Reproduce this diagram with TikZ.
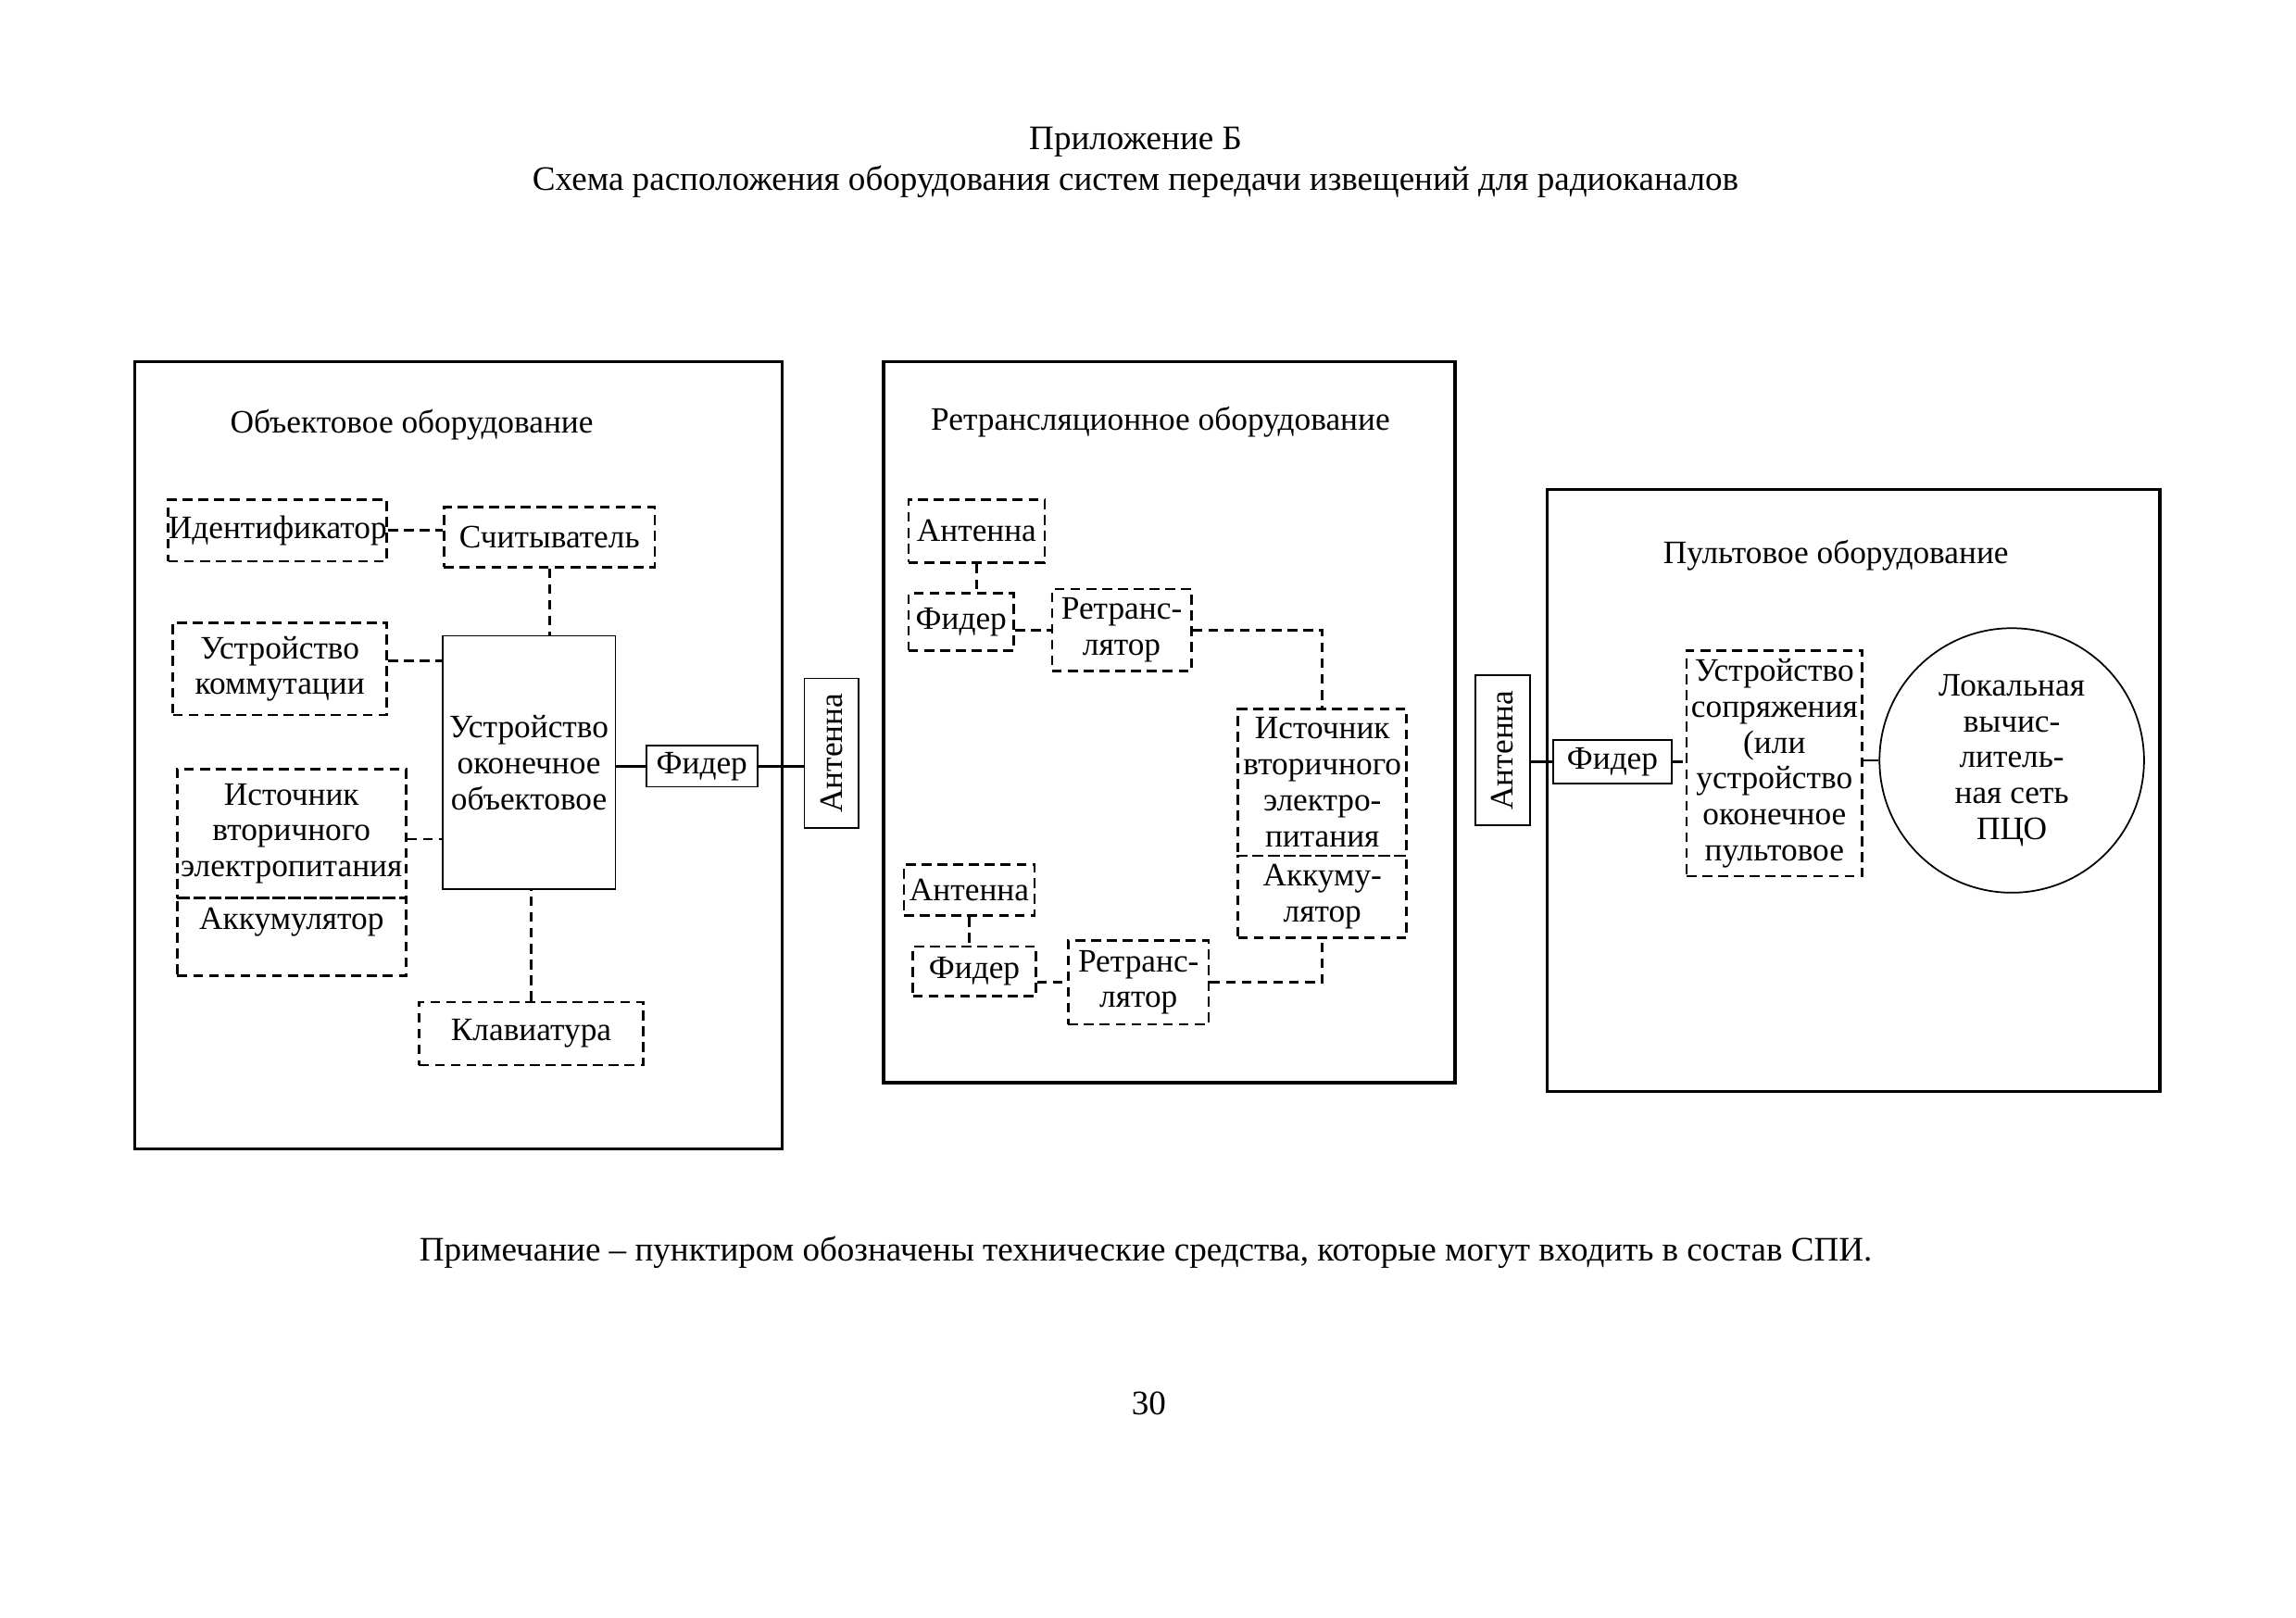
\documentclass[tikz,border=0pt]{standalone}
\usepackage{fontspec}
\setmainfont{Liberation Serif}

\tikzset{every picture/.style={line width=0.75pt}}
\tikzset{
  frame/.style={line width=1.1pt},
  sz/.style 2 args={minimum width=#1*0.5373pt, minimum height=#2*0.5373pt},
  sbox/.style={draw, line width=0.6pt, inner sep=0pt, align=center},
  dbox/.style={draw, line width=0.9pt, dash pattern=on 3.6pt off 2.2pt, inner sep=0pt, align=center},
  dline/.style={line width=0.9pt, dash pattern=on 3.6pt off 2.2pt},
  sline/.style={line width=0.8pt},
  head/.style={font=\fontsize{12.6}{15}\selectfont}
}

\begin{document}
\begin{tikzpicture}[x=0.5373pt,y=0.5373pt,yscale=-1,xscale=1,
  every node/.style={font=\fontsize{12}{13.2}\selectfont}]
\useasboundingbox (0,0) rectangle (1567,1103.7);

% Text Node
\node[head] (app) at (775,97) {Приложение Б};
% Text Node
\node[head] (ttl) at (775,124) {Схема расположения оборудования систем передачи извещений для радиоканалов};

%Shape: Rectangle [objektovoe]
\draw[frame] (92,247) rectangle (534,784);
%Shape: Rectangle [retranslyacionnoe]
\draw[frame] (603,247) rectangle (993,739);
%Shape: Rectangle [pultovoe]
\draw[frame] (1056,334) rectangle (1474,745);

% Text Node
\node (objlbl) at (281,290) {Объектовое оборудование};
% Text Node
\node (retlbl) at (792,288) {Ретрансляционное оборудование};
% Text Node
\node (pultlbl) at (1253,379) {Пультовое оборудование};

%Object equipment
\node[dbox, sz={145}{42}] (ident) at (189.5,362) {Идентификатор};
\node[dbox, sz={144}{41}] (reader) at (375,366.5) {Считыватель};
\node[dbox, sz={146}{63}] (komm) at (191,456.5) {Устройство\\коммутации};
\node[sbox, sz={118}{173}] (uoo) at (361,520.5) {Устройство\\оконечное\\объектовое};
\node[dbox, sz={156}{88}] (src1) at (199,569) {Источник\\вторичного\\электропитания};
\node[dbox, sz={156}{53}] (akk1) at (199,639.5) {Аккумулятор\\\mbox{}};
\node[dbox, sz={153}{43}] (kbd) at (362.5,705.5) {Клавиатура};
\node[sbox, sz={76}{28}] (fid1) at (479,523) {Фидер};
\node[sbox, rotate=90, sz={102}{37}] (ant1) at (567.5,514) {Антенна};

\draw[dline] (ident.east) -- (ident.east -| reader.west);
\draw[dline] (reader.south) -- (reader.south |- uoo.north);
\draw[dline] ([yshift=-3pt]komm.east) -- ([yshift=-3pt]komm.east -| uoo.west);
\draw[dline] ([yshift=2pt]src1.east) -- ([yshift=2pt]src1.east -| uoo.west);
\draw[dline] (kbd.north) -- (kbd.north |- uoo.south);
\draw[sline] (fid1.west -| uoo.east) -- (fid1.west);
\draw[sline] (fid1.east) -- (fid1.east -| ant1.north);

%Relay equipment
\node[dbox, sz={93}{43}] (ant2) at (666.5,362.5) {Антенна};
\node[dbox, sz={72}{39}] (fid2) at (656,424.5) {Фидер};
\node[dbox, sz={95}{56}] (ret2) at (765.5,430) {Ретранс-\\лятор};
\node[dbox, sz={115}{100}] (src2) at (902.5,534) {Источник\\вторичного\\электро-\\питания};
\node[dbox, sz={115}{56}] (akk2) at (902.5,612) {Аккуму-\\лятор};
\node[dbox, sz={89}{35}] (ant3) at (661.5,607.5) {Антенна};
\node[dbox, sz={84}{34}] (fid3) at (665,663) {Фидер};
\node[dbox, sz={96}{57}] (ret3) at (777,670.5) {Ретранс-\\лятор};

\draw[dline] (ant2.south) -- (ant2.south |- fid2.north);
\draw[dline] (ret2.west -| fid2.east) -- (ret2.west);
\draw[dline] (ret2.east) -| (src2.north);
\draw[dline] (ant3.south) -- (ant3.south |- fid3.north);
\draw[dline] (ret3.west -| fid3.east) -- (ret3.west);
\draw[dline] (ret3.east) -| (akk2.south);

%Console equipment
\node[sbox, rotate=90, sz={102}{37}] (ant4) at (1025.5,512) {Антенна};
\node[sbox, sz={81}{30}] (fid4) at (1100.5,520) {Фидер};
\node[dbox, sz={120}{154}] (pult) at (1211,521) {Устройство\\сопряжения\\(или\\устройство\\оконечное\\пультовое};
\node[draw, circle, line width=0.6pt, minimum size=97pt, inner sep=0pt, align=center] (lvs) at (1373,519) {Локальная\\вычис-\\литель-\\ная сеть\\ПЦО};

\draw[sline] (fid4.west) -- (fid4.west -| ant4.south);
\draw[dline] (fid4.east) -- (fid4.east -| pult.west);
\draw[line width=0.9pt] (lvs.west -| pult.east) -- (lvs.west);

% Text Node
\node[head] (note) at (782,855) {Примечание – пунктиром обозначены технические средства, которые могут входить в состав СПИ.};
% Text Node
\node[head] (pg) at (784,958) {30};

\end{tikzpicture}
\end{document}
